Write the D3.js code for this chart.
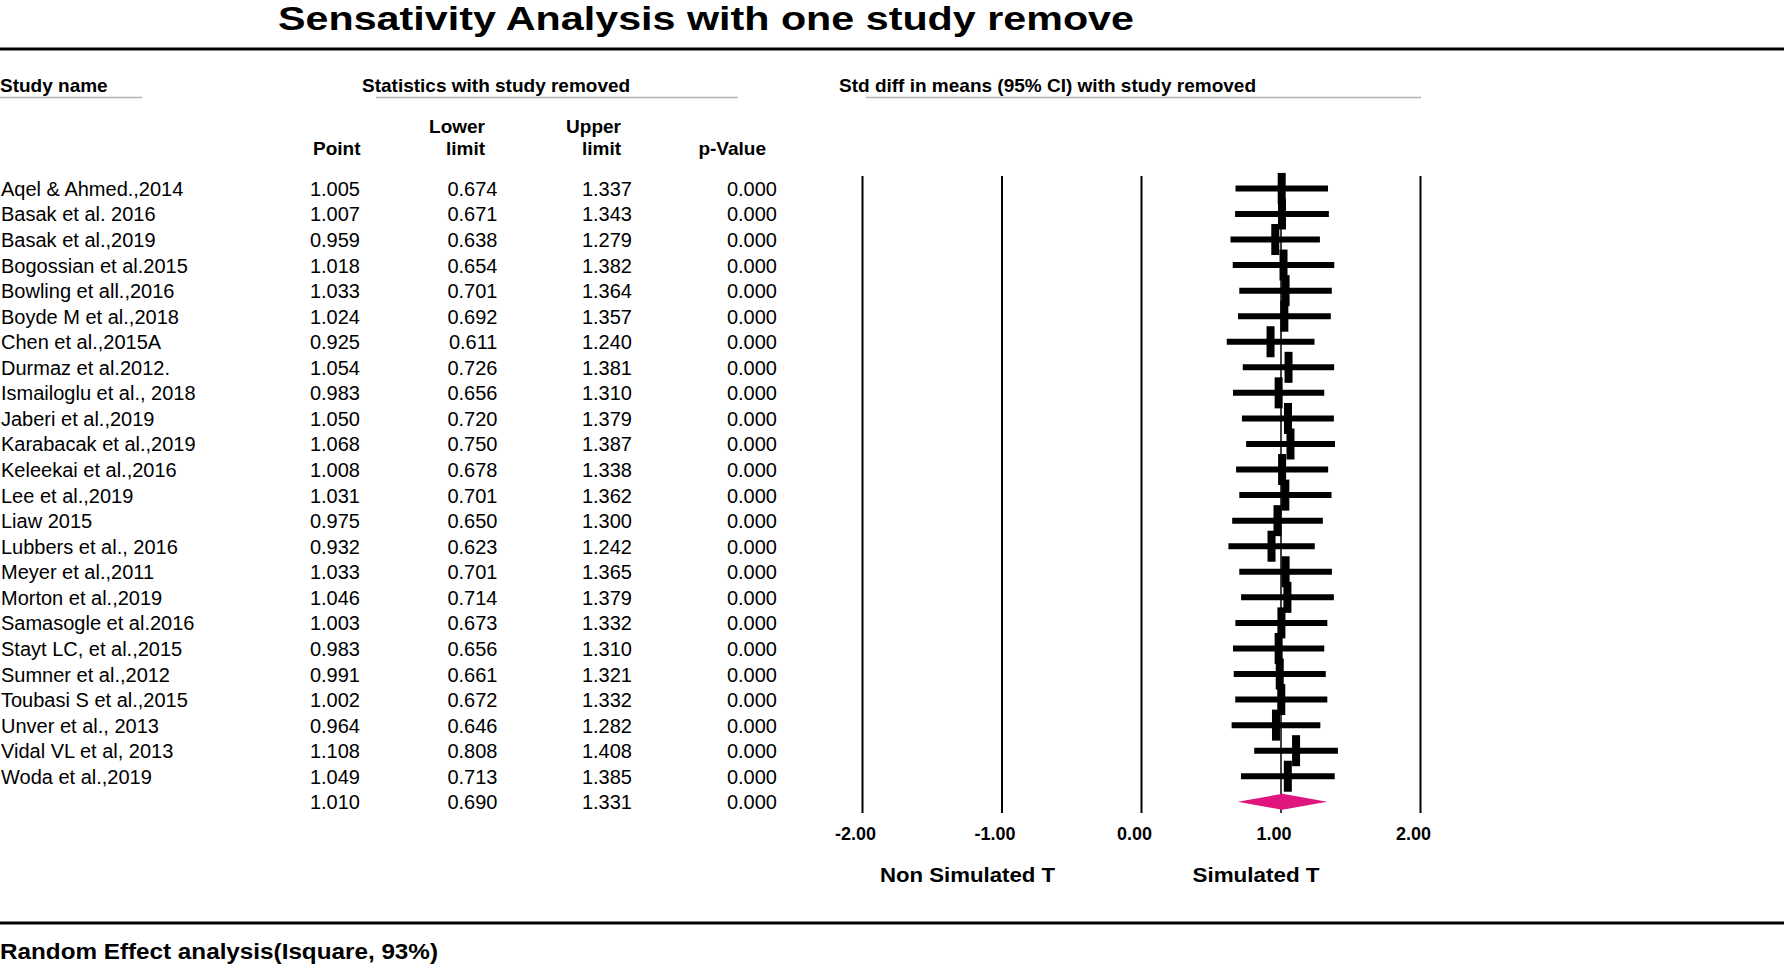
<!DOCTYPE html>
<html>
<head>
<meta charset="utf-8">
<script src="https://cdnjs.cloudflare.com/ajax/libs/d3/7.8.5/d3.min.js"></script>
<style>
  body { margin: 0; background: #fff; }
  text { font-family: "Liberation Sans", Arial, sans-serif; fill: #000; }
  .bold { font-weight: bold; }
</style>
</head>
<body>
<div id="chart"></div>
<script>
// Study names, in the order they are listed
var studies = [
  "Aqel & Ahmed.,2014", "Basak et al. 2016", "Basak et al.,2019", "Bogossian et al.2015",
  "Bowling et all.,2016", "Boyde M et al.,2018", "Chen et al.,2015A", "Durmaz et al.2012.",
  "Ismailoglu et al., 2018", "Jaberi et al.,2019", "Karabacak et al.,2019", "Keleekai et al.,2016",
  "Lee et al.,2019", "Liaw 2015", "Lubbers et al., 2016", "Meyer et al.,2011",
  "Morton et al.,2019", "Samasogle et al.2016", "Stayt LC, et al.,2015", "Sumner et al.,2012",
  "Toubasi S et al.,2015", "Unver et al., 2013", "Vidal VL et al, 2013", "Woda et al.,2019"
];
var points = [1.005, 1.007, 0.959, 1.018, 1.033, 1.024, 0.925, 1.054, 0.983, 1.050, 1.068, 1.008,
              1.031, 0.975, 0.932, 1.033, 1.046, 1.003, 0.983, 0.991, 1.002, 0.964, 1.108, 1.049];
var lowers = [0.674, 0.671, 0.638, 0.654, 0.701, 0.692, 0.611, 0.726, 0.656, 0.720, 0.750, 0.678,
              0.701, 0.650, 0.623, 0.701, 0.714, 0.673, 0.656, 0.661, 0.672, 0.646, 0.808, 0.713];
var uppers = [1.337, 1.343, 1.279, 1.382, 1.364, 1.357, 1.240, 1.381, 1.310, 1.379, 1.387, 1.338,
              1.362, 1.300, 1.242, 1.365, 1.379, 1.332, 1.310, 1.321, 1.332, 1.282, 1.408, 1.385];
var pvalues = [0.000, 0.000, 0.000, 0.000, 0.000, 0.000, 0.000, 0.000, 0.000, 0.000, 0.000, 0.000,
               0.000, 0.000, 0.000, 0.000, 0.000, 0.000, 0.000, 0.000, 0.000, 0.000, 0.000, 0.000];
// Pooled (random effect) result
var summary = {point: 1.010, lower: 0.690, upper: 1.331, p: 0.000};
var ticks = [-2, -1, 0, 1, 2];
var sideLabels = ["Non Simulated T", "Simulated T"];

var width = 1784, height = 965;
var fmt = d3.format(".3f");
// plain hyphen for negatives, like the original
var tickFmt = function(d) { return d3.format(".2f")(d).replace("\u2212", "-"); };

var svg = d3.select("#chart")
  .append("svg")
  .attr("width", width)
  .attr("height", height);

// Build rows from the arrays
var rows = studies.map(function(name, i) {
  return {name: name, point: points[i], lower: lowers[i], upper: uppers[i], p: pvalues[i]};
});
var allRows = rows.concat([{name: "", point: summary.point, lower: summary.lower, upper: summary.upper, p: summary.p, total: true}]);

// Row positions and effect-size scale
var y = d3.scalePoint()
  .domain(d3.range(allRows.length))
  .range([188.4, 801.8]);
var x = d3.scaleLinear()
  .domain([-2, 2])
  .range([862.5, 1420.5]);

// Title
svg.append("text")
  .attr("class", "bold")
  .attr("x", 278)
  .attr("y", 30)
  .attr("font-size", 33)
  .attr("textLength", 856)
  .attr("lengthAdjust", "spacingAndGlyphs")
  .text("Sensativity Analysis with one study remove");

// Heavy rules top and bottom
svg.append("line")
  .attr("x1", 0).attr("x2", width)
  .attr("y1", 49).attr("y2", 49)
  .attr("stroke", "#000").attr("stroke-width", 3);
svg.append("line")
  .attr("x1", 0).attr("x2", width)
  .attr("y1", 923).attr("y2", 923)
  .attr("stroke", "#000").attr("stroke-width", 3);

// Group headers with their grey underlines
var groups = [
  {text: "Study name", x: 0, u0: 0, u1: 142},
  {text: "Statistics with study removed", x: 362, u0: 376, u1: 738},
  {text: "Std diff in means (95% CI) with study removed", x: 839, u0: 866, u1: 1421}
];
svg.selectAll(".grp")
  .data(groups)
  .enter().append("text")
  .attr("class", "bold")
  .attr("x", function(d) { return d.x; })
  .attr("y", 92)
  .attr("font-size", 19)
  .text(function(d) { return d.text; });
svg.selectAll(".uline")
  .data(groups)
  .enter().append("line")
  .attr("x1", function(d) { return d.u0; })
  .attr("x2", function(d) { return d.u1; })
  .attr("y1", 97.5).attr("y2", 97.5)
  .attr("stroke", "#b4b4b4").attr("stroke-width", 1.5);

// Column headers (right aligned)
var cols = [
  {key: "point", head: ["", "Point"], hx: 360.5, vx: 360},
  {key: "lower", head: ["Lower", "limit"], hx: 485, vx: 497.5},
  {key: "upper", head: ["Upper", "limit"], hx: 621, vx: 632},
  {key: "p", head: ["", "p-Value"], hx: 766, vx: 777}
];
cols.forEach(function(c) {
  c.head.forEach(function(h, j) {
    svg.append("text")
      .attr("class", "bold")
      .attr("x", c.hx)
      .attr("y", j == 0 ? 133 : 155)
      .attr("font-size", 19)
      .attr("text-anchor", "end")
      .text(h);
  });
});

// Study names
svg.selectAll(".name")
  .data(allRows)
  .enter().append("text")
  .attr("x", 1)
  .attr("y", function(d, i) { return y(i) + 7.5; })
  .attr("font-size", 20)
  .text(function(d) { return d.name; });

// Numbers
cols.forEach(function(c) {
  svg.selectAll(".num-" + c.key)
    .data(allRows)
    .enter().append("text")
    .attr("x", c.vx)
    .attr("y", function(d, i) { return y(i) + 7.5; })
    .attr("font-size", 20)
    .attr("text-anchor", "end")
    .text(function(d) { return fmt(d[c.key]); });
});

// Vertical reference lines at each tick
svg.selectAll(".vline")
  .data(ticks)
  .enter().append("line")
  .attr("x1", function(d) { return x(d); })
  .attr("x2", function(d) { return x(d); })
  .attr("y1", 176).attr("y2", 813)
  .attr("stroke", "#000")
  .attr("stroke-width", function(d) { return d == 1 ? 1.5 : 2; });

// Tick labels
svg.selectAll(".tick")
  .data(ticks)
  .enter().append("text")
  .attr("class", "bold")
  .attr("x", function(d) { return x(d) - 7; })
  .attr("y", 840)
  .attr("font-size", 18)
  .attr("text-anchor", "middle")
  .text(tickFmt);

// Confidence interval bars
svg.selectAll(".ci")
  .data(rows)
  .enter().append("line")
  .attr("x1", function(d) { return x(d.lower); })
  .attr("x2", function(d) { return x(d.upper); })
  .attr("y1", function(d, i) { return y(i); })
  .attr("y2", function(d, i) { return y(i); })
  .attr("stroke", "#000").attr("stroke-width", 6);

// Point markers
svg.selectAll(".sq")
  .data(rows)
  .enter().append("rect")
  .attr("x", function(d) { return x(d.point) - 4; })
  .attr("y", function(d, i) { return y(i) - 15.5; })
  .attr("width", 8)
  .attr("height", 31)
  .attr("fill", "#000");

// Summary diamond
var sy = y(allRows.length - 1);
svg.append("polygon")
  .attr("points", [
    [x(summary.lower), sy], [x(summary.point), sy - 8],
    [x(summary.upper), sy], [x(summary.point), sy + 8]
  ].map(function(p) { return p.join(","); }).join(" "))
  .attr("fill", "#e0157e");

// Labels under the axis
var sideX = [967.5, 1256], sideW = [175, 127];
svg.selectAll(".side")
  .data(sideLabels)
  .enter().append("text")
  .attr("class", "bold")
  .attr("x", function(d, i) { return sideX[i]; })
  .attr("y", 882)
  .attr("font-size", 21)
  .attr("text-anchor", "middle")
  .attr("textLength", function(d, i) { return sideW[i]; })
  .attr("lengthAdjust", "spacingAndGlyphs")
  .text(function(d) { return d; });

// Footer
svg.append("text")
  .attr("class", "bold")
  .attr("x", 0)
  .attr("y", 959)
  .attr("font-size", 22)
  .attr("textLength", 438)
  .attr("lengthAdjust", "spacingAndGlyphs")
  .text("Random Effect analysis(Isquare, 93%)");
</script>
</body>
</html>
